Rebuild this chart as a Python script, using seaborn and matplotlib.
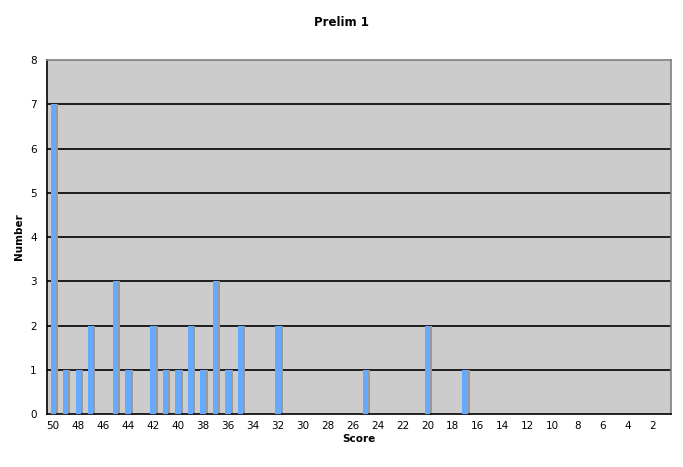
import numpy as np
import pandas as pd
import matplotlib
matplotlib.use("Agg")
import matplotlib.pyplot as plt
import matplotlib.transforms as mtransforms
import seaborn as sns

# score categories run from 50 down to 1
scores = list(range(50, 0, -1))
counts = [7, 1, 1, 2, 0, 3, 1, 0, 2, 1,   # 50..41
          1, 2, 1, 3, 1, 2, 0, 0, 2, 0,   # 40..31
          0, 0, 0, 0, 0, 1, 0, 0, 0, 0,   # 30..21
          2, 0, 0, 1, 0, 0, 0, 0, 0, 0,   # 20..11
          0, 0, 0, 0, 0, 0, 0, 0, 0, 0]   # 10..1
tick_labels = [str(s) if s % 2 == 0 else "" for s in scores]

df = pd.DataFrame({"Score": [str(s) for s in scores], "Number": counts})
order = [str(s) for s in scores]

sns.set_style("white")
plt.rcParams['font.family'] = ['DejaVu Sans']
plt.rcParams['text.color'] = 'black'
plt.rcParams['axes.labelcolor'] = 'black'
plt.rcParams['xtick.color'] = 'black'
plt.rcParams['ytick.color'] = 'black'

fig = plt.figure(figsize=(6.83, 4.67), dpi=100)
ax = fig.add_axes([47/683, 1-414/467, 624/683, 354/467])
ax.set_facecolor("#cccccc")

# shadow bars, shifted a couple of pixels right
sns.barplot(data=df, x="Score", y="Number", order=order, color="#999999",
            width=0.42, saturation=1, ax=ax)
shift = mtransforms.ScaledTranslation(2/100, 0, fig.dpi_scale_trans)
for p in ax.patches:
    p.set_transform(ax.transData + shift)
    p.set_edgecolor("none")
    p.set_zorder(2)
n_shadow = len(ax.patches)

sns.barplot(data=df, x="Score", y="Number", order=order, color="#66aaff",
            width=0.42, saturation=1, ax=ax)
for p in ax.patches[n_shadow:]:
    p.set_edgecolor("none")
    p.set_zorder(3)

ax.set_ylim(0, 8)
ax.set_xlim(-0.5, len(scores) - 0.5)
ax.set_yticks(range(0, 9))
for y in range(1, 8):
    ax.axhline(y, color="black", lw=1.2, zorder=1)

ax.set_xticks(range(len(scores)))
ax.set_xticklabels(tick_labels, fontsize=7.5)
ax.set_xticks(np.arange(-0.5, len(scores), 1), minor=True)
ax.tick_params(axis="x", which="major", length=0, pad=5)
ax.tick_params(axis="x", which="minor", length=3, width=1, direction="out", color="black")
ax.tick_params(axis="y", length=4, width=1, direction="out", color="black", labelsize=7.5)

for side in ["top", "right"]:
    ax.spines[side].set_color("#808080")
    ax.spines[side].set_linewidth(1.2)
for side in ["left", "bottom"]:
    ax.spines[side].set_color("black")
    ax.spines[side].set_linewidth(1.2)

ax.set_xlabel("Score", fontsize=7.5, fontweight="bold", labelpad=2)
ax.set_ylabel("Number", fontsize=7.5, fontweight="bold", labelpad=4)
fig.suptitle("Prelim 1", fontsize=8.5, fontweight="bold", y=1-23/467, va="center")

fig.savefig("out.png", dpi=100)
